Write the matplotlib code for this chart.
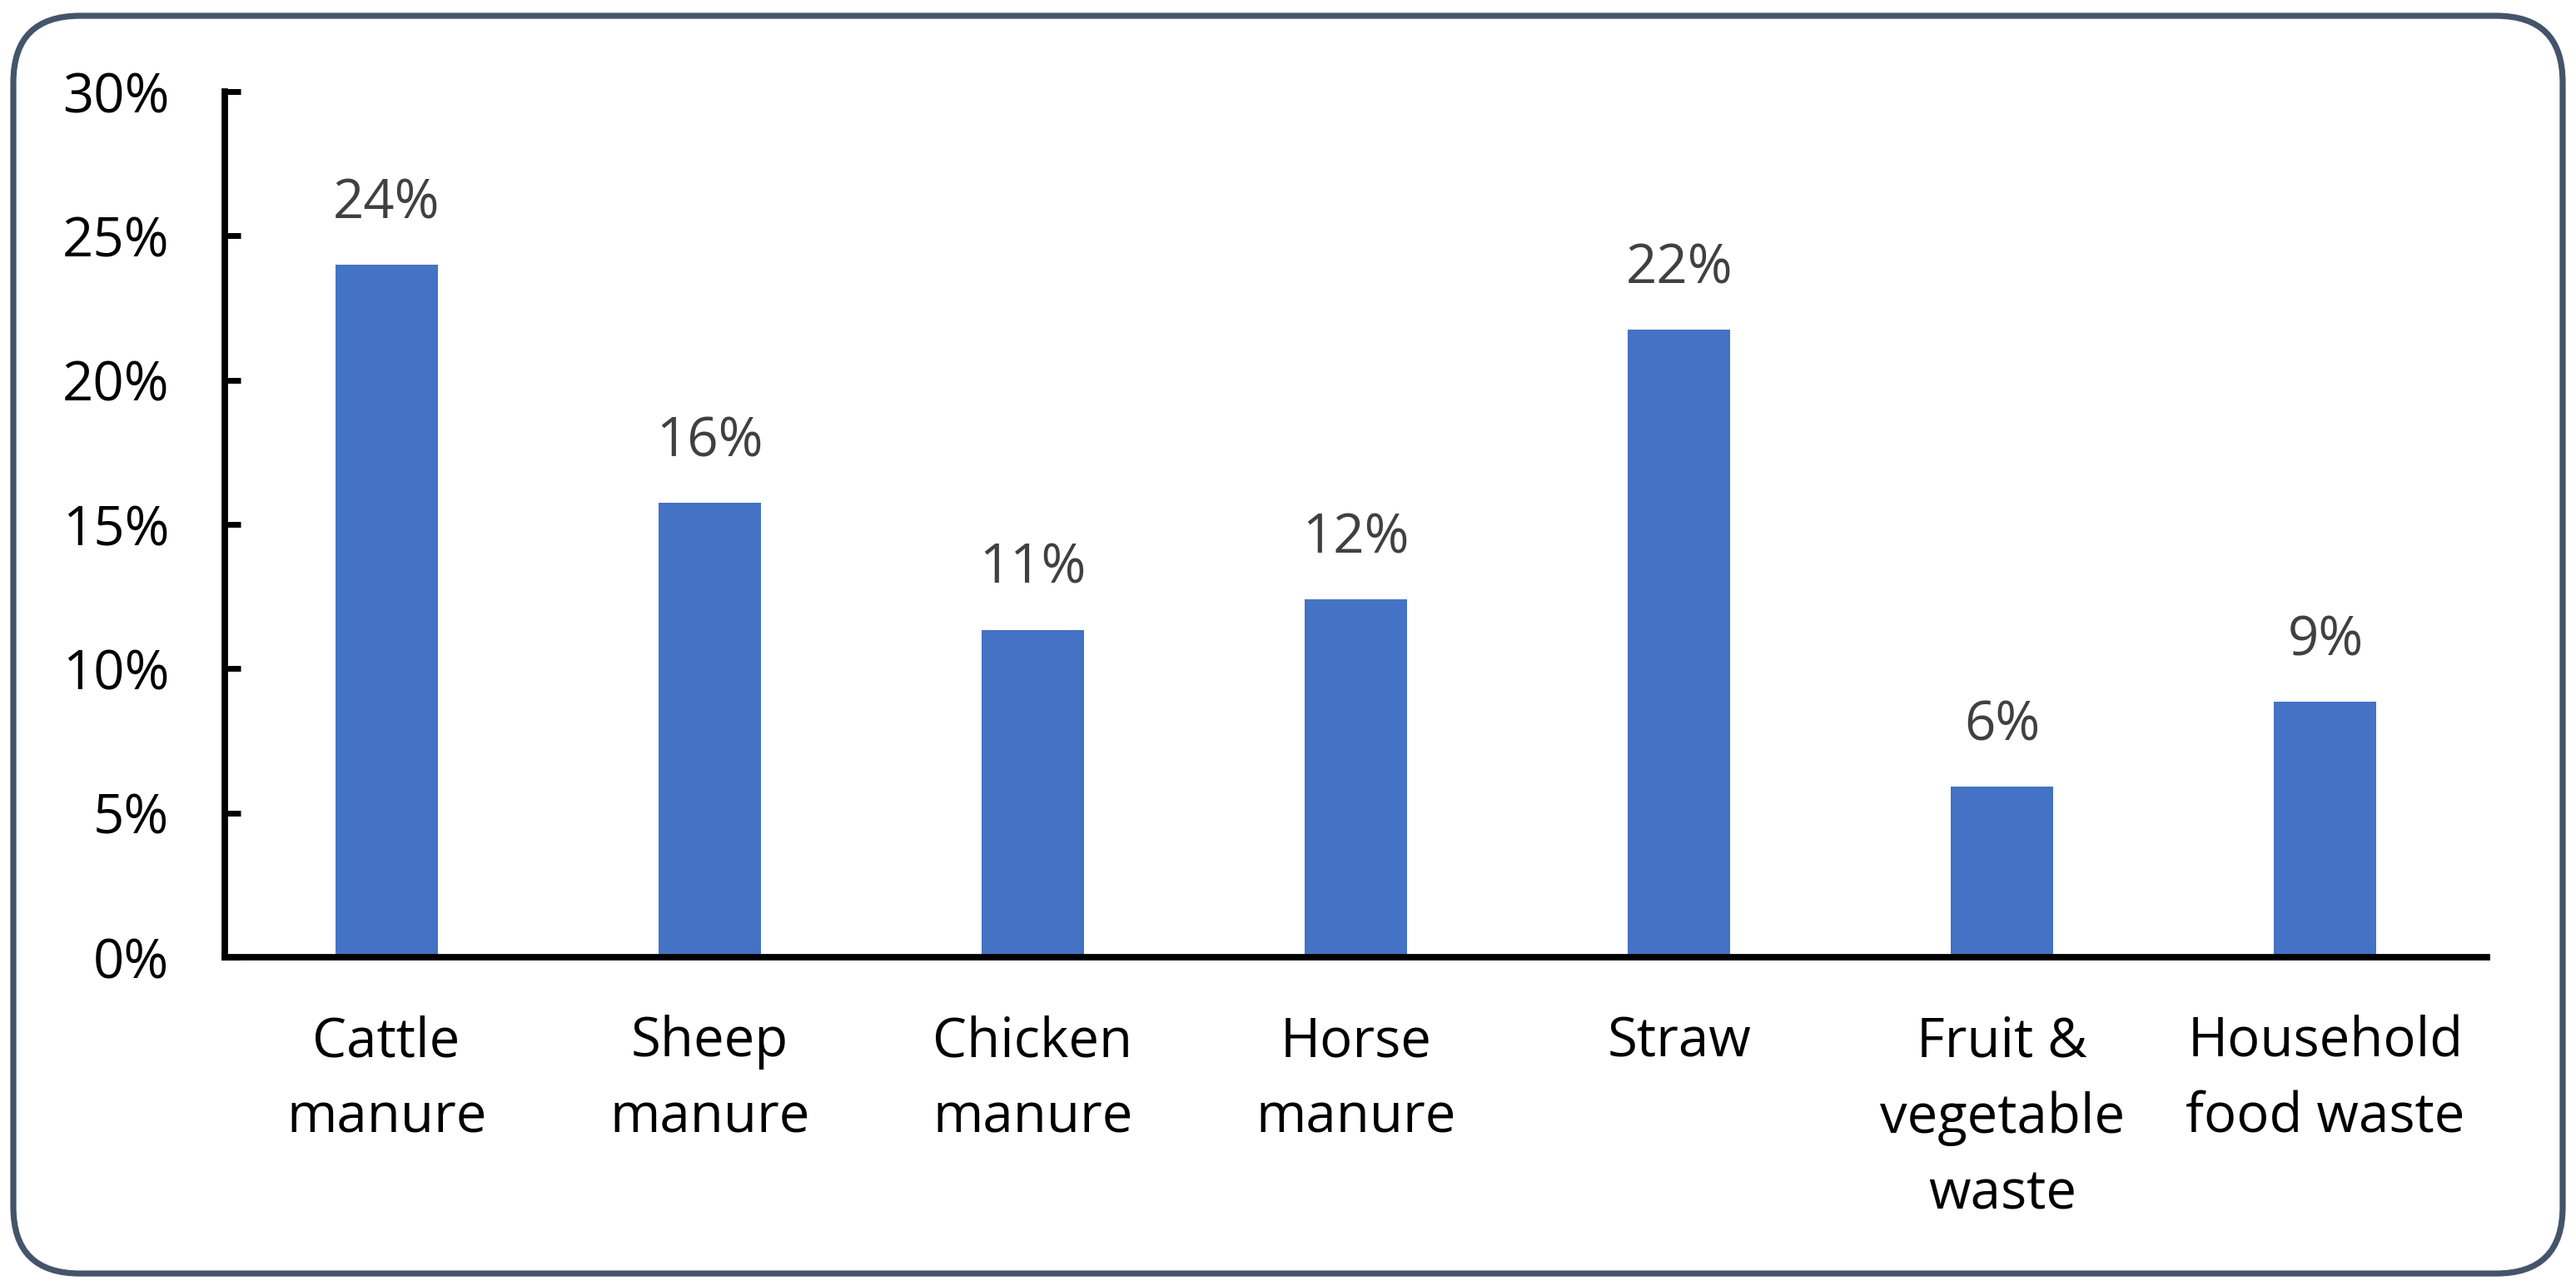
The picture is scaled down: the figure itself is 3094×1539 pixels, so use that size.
import matplotlib
matplotlib.use("Agg")
import matplotlib.pyplot as plt
from matplotlib.patches import FancyBboxPatch
from matplotlib.ticker import FuncFormatter

categories = ["Cattle\nmanure", "Sheep\nmanure", "Chicken\nmanure", "Horse\nmanure",
              "Straw", "Fruit &\nvegetable\nwaste", "Household\nfood waste"]
values = [24.0, 15.75, 11.35, 12.4, 21.75, 5.9, 8.85]
labels = ["24%", "16%", "11%", "12%", "22%", "6%", "9%"]
yticks = [0, 5, 10, 15, 20, 25, 30]

plt.rcParams['font.family'] = ['Open Sans', 'DejaVu Sans']

W, H, DPI = 3094, 1539, 100
fig = plt.figure(figsize=(W / DPI, H / DPI), dpi=DPI)
fig.patch.set_facecolor("white")

# rounded border
border = FancyBboxPatch((0.16, 0.09), 30.62, 15.11,
                        boxstyle="round,pad=0,rounding_size=0.8",
                        transform=fig.dpi_scale_trans, fill=False,
                        edgecolor="#44546A", linewidth=5.2, zorder=0)
fig.patches.append(border)

ax = fig.add_axes([270 / W, 1 - 1150 / H, (2987 - 270) / W, (1150 - 110) / H])
x = list(range(len(categories)))
ax.bar(x, values, width=0.317, color="#4472C4", zorder=2)
ax.set_xlim(-0.5, len(categories) - 0.5)
ax.set_ylim(0, 30)
ax.set_yticks(yticks)
ax.yaxis.set_major_formatter(FuncFormatter(lambda v, p: f"{v:.0f}%"))
ax.set_xticks(x)
ax.set_xticklabels(categories, linespacing=1.5)

for s in ["top", "right"]:
    ax.spines[s].set_visible(False)
for s in ["left", "bottom"]:
    ax.spines[s].set_linewidth(5.6)
    ax.spines[s].set_color("black")

ax.tick_params(axis="y", direction="in", length=14, width=5, pad=48,
               labelsize=47, labelcolor="black")
ax.tick_params(axis="x", length=0, pad=50, labelsize=47, labelcolor="black")

for xi, v, lab in zip(x, values, labels):
    ax.annotate(lab, (xi, v), xytext=(0, 40), textcoords="offset points",
                ha="center", va="baseline", fontsize=47, color="#404040")

fig.savefig("out.png", dpi=DPI)
